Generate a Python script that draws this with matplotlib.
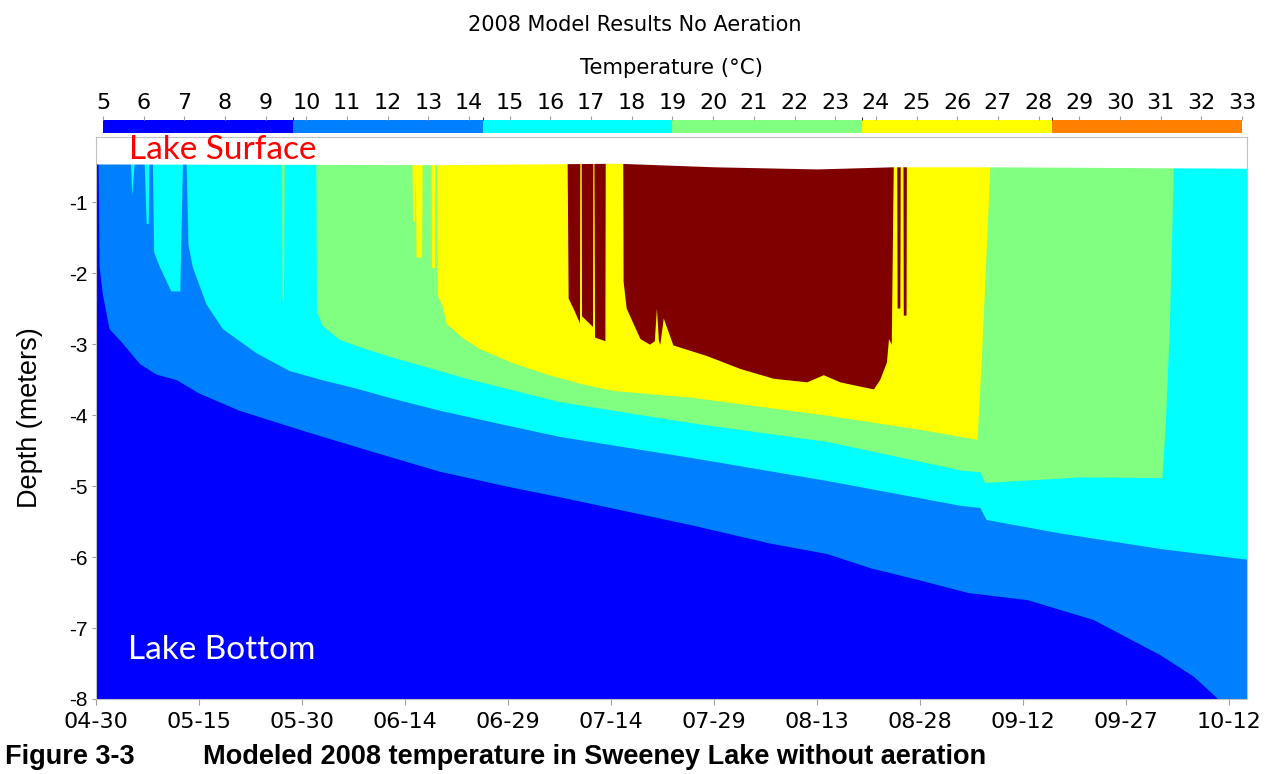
import matplotlib.pyplot as plt
from matplotlib.colors import ListedColormap, BoundaryNorm
from matplotlib.cm import ScalarMappable

plt.rcParams['axes.unicode_minus'] = False

narrow = ['Liberation Sans Narrow', 'DejaVu Sans']
arial = ['Liberation Sans', 'DejaVu Sans']

S = -0.4          # band reaches the lake surface
BOTTOM = -8.0
LAST_DAY = 167.6  # days after 04-30

# x axis: days after 04-30
tick_days = [0, 15, 30, 45, 60, 75, 90, 105, 120, 135, 150, 165]
tick_labels = ['04-30', '05-15', '05-30', '06-14', '06-29', '07-14',
               '07-29', '08-13', '08-28', '09-12', '09-27', '10-12']
depth_ticks = [-1, -2, -3, -4, -5, -6, -7, -8]

# colour scale
cbar_edges = [5, 9.667, 14.333, 19, 23.667, 28.333, 33]
cbar_colors = ['#0000FF', '#0080FF', '#00FFFF', '#80FF80', '#FFFF00', '#FF8000']
cbar_ticks = list(range(5, 34))

# water surface
surface_day = [0, 50, 76, 90, 105, 116, 130, LAST_DAY]
surface_depth = [-0.46, -0.47, -0.45, -0.5, -0.53, -0.5, -0.5, -0.52]

# top of the 5-9.7 C layer
blue_day = [0, 0.3, 0.45, 0.9, 1.9, 3.8, 6.3, 8.7, 11.7, 15, 20.8, 30.6, 40.2,
            50, 59.8, 67.5, 86.9, 98, 106.4, 112.7, 119, 127, 135.6, 145.2,
            150.1, 155, 159.8, 163.4, LAST_DAY]
blue_top = [S, S, -1.9, -2.28, -2.78, -2.98, -3.27, -3.42, -3.5, -3.69, -3.93,
            -4.23, -4.51, -4.79, -5.0, -5.15, -5.55, -5.8, -5.95, -6.15, -6.3,
            -6.5, -6.6, -6.88, -7.13, -7.38, -7.68, -8.0, -8.0]

# top of the 9.7-14.3 C layer
light_day = [0, 5.0, 5.2, 5.6, 7.0, 7.3, 7.6, 7.7, 8.2, 8.4, 9.2, 10.9, 12.2,
             12.6, 13.1, 13.4, 14, 16, 18.4, 23.3, 28.1, 32.9, 37.9, 42.7, 50,
             59.8, 67.5, 86.9, 106.4, 125.8, 128.7, 129.6, 140.4, 155, LAST_DAY]
light_top = [S, S, -0.9, S, S, -1.3, -1.3, S, S, -1.7, -1.9, -2.25, -2.25,
             S, S, -1.6, -1.9, -2.43, -2.78, -3.12, -3.37, -3.5, -3.62, -3.75,
             -3.93, -4.14, -4.3, -4.6, -4.92, -5.27, -5.3, -5.47, -5.66, -5.88,
             -6.03]

# top of the 14.3-19 C layer
cyan_day = [0, 27.0, 27.1, 27.3, 27.4, 32.0, 32.1, 32.9, 35.4, 37.9, 42.7,
            53.9, 67.5, 86.9, 106.4, 125.8, 128.7, 129.4, 143.3, 155.2, 155.7,
            156.3, 156.9, LAST_DAY]
cyan_top = [S, S, -2.38, -2.38, S, S, -2.53, -2.73, -2.93, -3.02, -3.17,
            -3.48, -3.81, -4.11, -4.37, -4.77, -4.8, -4.95, -4.87, -4.88,
            -4.14, -2.74, S, S]

# top of the 19-23.7 C layer
green_day = [0, 46.0, 46.1, 46.4, 46.5, 46.6, 47.4, 47.5, 48.8, 48.85, 49.3,
             49.35, 49.6, 49.7, 50.4, 51.0, 53.4, 55.8, 60.6, 65.6, 70.4, 75.2,
             86.9, 106.4, 120, 128.3, 129.0, 130.2, LAST_DAY]
green_top = [S, S, -1.27, -1.27, S, -1.77, -1.77, S, S, -1.92, -1.92, S, S,
             -2.3, -2.46, -2.71, -2.91, -3.06, -3.26, -3.42, -3.55, -3.65,
             -3.75, -4.0, -4.2, -4.34, -3.04, S, S]

# top of the 23.7-28.3 C layer (warmer water above)
yellow_day = [0, 68.6, 68.75, 69.5, 70.4, 70.45, 70.65, 70.7, 72.3, 72.35,
              72.5, 72.6, 74.1, 74.15, 76.7, 76.75, 77.2, 79.2, 80.6, 81.3,
              81.6, 81.9, 82.1, 82.6, 84, 88.9, 93.7, 98.6, 103.5, 105.9, 108.3,
              110.7, 113.2, 114.1, 115.1, 115.4, 115.8, 116.1, 116.6, 116.65,
              117.05, 117.1, 117.5, 117.55, 117.95, 118, LAST_DAY]
yellow_top = [S, S, -2.35, -2.5, -2.7, S, S, -2.6, -2.75, S, S, -2.9, -2.95,
              S, S, -2.11, -2.49, -2.92, -3.0, -2.95, -2.49, -2.95, -3.0,
              -2.63, -3.01, -3.16, -3.34, -3.48, -3.53, -3.43, -3.53, -3.58,
              -3.63, -3.5, -3.25, -2.92, -3.0, S, S, -2.49, -2.49, S, S, -2.59,
              -2.59, S, S]

fig = plt.figure(figsize=(12.7, 7.74), dpi=100)
ax = fig.add_axes([96 / 1270, 1 - 699 / 774, 1151 / 1270, 562 / 774])

layers = [
    ([0, LAST_DAY], [S, S], '#800000'),
    (yellow_day, yellow_top, '#FFFF00'),
    (green_day, green_top, '#80FF80'),
    (cyan_day, cyan_top, '#00FFFF'),
    (light_day, light_top, '#0080FF'),
    (blue_day, blue_top, '#0000FF'),
]
for days, tops, col in layers:
    ax.fill_between(days, tops, BOTTOM, color=col, linewidth=0)

# air above the surface
ax.fill_between(surface_day, surface_depth, 0, color='white', linewidth=0)

ax.set_xlim(0, LAST_DAY)
ax.set_ylim(BOTTOM, -0.08)
ax.set_xticks(tick_days)
ax.set_xticklabels(tick_labels, family=narrow, fontsize=16)
ax.set_yticks(depth_ticks)
ax.set_yticklabels([str(d) for d in depth_ticks], family=arial, fontsize=15)
ax.tick_params(axis='x', colors='#A0A0A0', length=4, pad=5, labelcolor='black')
ax.tick_params(axis='y', colors='#A0A0A0', length=3, pad=3, labelcolor='black')
for sp in ax.spines.values():
    sp.set_color('#C0C0C0')

fig.text(30 / 1270, 1 - 418 / 774, 'Depth (meters)', rotation=90, ha='center',
         va='center', fontsize=19.5, family=arial)

ax.text(0.029, 0.977, 'Lake Surface', transform=ax.transAxes, color='red',
        fontsize=24, family=['Lato', 'DejaVu Sans'], va='center')
ax.text(0.028, 0.087, 'Lake Bottom', transform=ax.transAxes, color='white',
        fontsize=24, family=['Lato', 'DejaVu Sans'], va='center')

# colour bar on top
cax = fig.add_axes([103 / 1270, 1 - 133 / 774, 1139 / 1270, 13 / 774])
norm = BoundaryNorm(cbar_edges, len(cbar_colors))
cb = fig.colorbar(ScalarMappable(norm=norm, cmap=ListedColormap(cbar_colors)),
                  cax=cax, orientation='horizontal', spacing='proportional',
                  ticks=cbar_ticks)
cb.outline.set_visible(False)
cax.xaxis.set_ticks_position('top')
cax.set_xticklabels([str(t) for t in cbar_ticks], family=narrow, fontsize=16)
cax.tick_params(axis='x', colors='#A0A0A0', length=3, pad=2, labelcolor='black')

fig.text(0.5, 1 - 25 / 774, '2008 Model Results No Aeration', ha='center',
         va='center', fontsize=15, family=narrow)
fig.text(672 / 1270, 1 - 68 / 774, 'Temperature (°C)', ha='center',
         va='center', fontsize=15.3, family=narrow)

fig.text(5 / 1270, 1 - 757 / 774, 'Figure 3-3', fontsize=19.5, weight='bold',
         family=arial, va='center')
fig.text(203 / 1270, 1 - 757 / 774,
         'Modeled 2008 temperature in Sweeney Lake without aeration',
         fontsize=19.5, weight='bold', family=arial, va='center')

fig.savefig('out.png', dpi=100)
